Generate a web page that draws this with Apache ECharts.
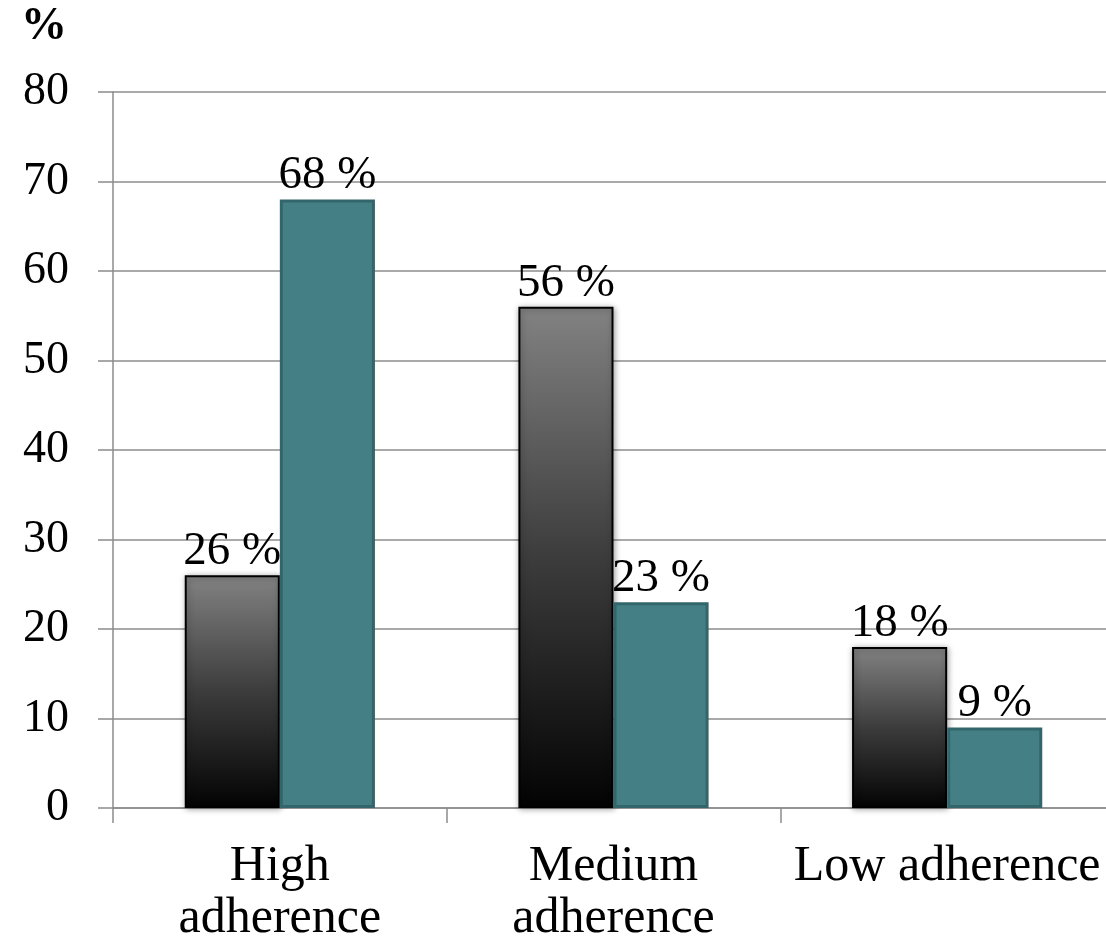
<!DOCTYPE html>
<html>
<head>
<meta charset="utf-8">
<script src="https://cdn.jsdelivr.net/npm/echarts@6/dist/echarts.min.js"></script>
<style>
  html, body { margin: 0; padding: 0; background: #fff; }
  #chart { width: 1106px; height: 940px; }
</style>
</head>
<body>
<div id="chart"></div>
<script>
// Adherence groups and the share of each group (%) in the two series
const categories = ['High\nadherence', 'Medium\nadherence', 'Low adherence'];
const seriesA = [26, 56, 18];
const seriesB = [68, 23, 9];
const yTicks = { min: 0, max: 80, interval: 10 };

const font = '"Liberation Serif", "Times New Roman", serif';
const axisGray = '#8c8c8c';

const chart = echarts.init(document.getElementById('chart'));

const pctLabel = {
  show: true,
  position: 'top',
  distance: 0,
  fontFamily: font,
  fontSize: 47,
  color: '#000',
  formatter: p => p.value + ' %'
};

chart.setOption({
  animation: false,
  backgroundColor: '#fff',
  graphic: [{
    type: 'text',
    left: 21,
    top: 4,
    style: { text: '%', fontFamily: font, fontSize: 46, fontWeight: 'bold', fill: '#000' }
  }],
  grid: {
    left: 113, right: -8, top: 92, bottom: 132,
    containLabel: false, outerBoundsMode: 'none'
  },
  xAxis: {
    type: 'category',
    data: categories,
    axisLine: { show: true, lineStyle: { color: axisGray, width: 1.5 } },
    axisTick: { show: true, length: 15, lineStyle: { color: axisGray, width: 1.5 } },
    axisLabel: {
      fontFamily: font, fontSize: 50, color: '#000',
      margin: 33, lineHeight: 52, interval: 0
    }
  },
  yAxis: {
    type: 'value',
    min: yTicks.min, max: yTicks.max, interval: yTicks.interval,
    axisLine: { show: true, lineStyle: { color: axisGray, width: 1.5 } },
    axisTick: { show: true, length: 15, lineStyle: { color: axisGray, width: 1.5 } },
    splitLine: { show: true, lineStyle: { color: axisGray, width: 1.5 } },
    axisLabel: { fontFamily: font, fontSize: 46, color: '#000', margin: 44 }
  },
  series: [
    {
      type: 'bar',
      data: seriesA,
      barGap: '0%',
      barCategoryGap: '43%',
      itemStyle: {
        color: new echarts.graphic.LinearGradient(0, 0, 0, 1, [
          { offset: 0, color: '#828282' },
          { offset: 0.5, color: '#3c3c3c' },
          { offset: 1, color: '#030303' }
        ]),
        borderColor: '#000',
        borderWidth: 2,
        shadowColor: 'rgba(0,0,0,0.35)',
        shadowBlur: 6,
        shadowOffsetX: 1,
        shadowOffsetY: 1
      },
      label: pctLabel
    },
    {
      type: 'bar',
      data: seriesB,
      itemStyle: {
        color: '#447f85',
        borderColor: '#33666a',
        borderWidth: 3
      },
      label: pctLabel
    }
  ]
});
</script>
</body>
</html>
